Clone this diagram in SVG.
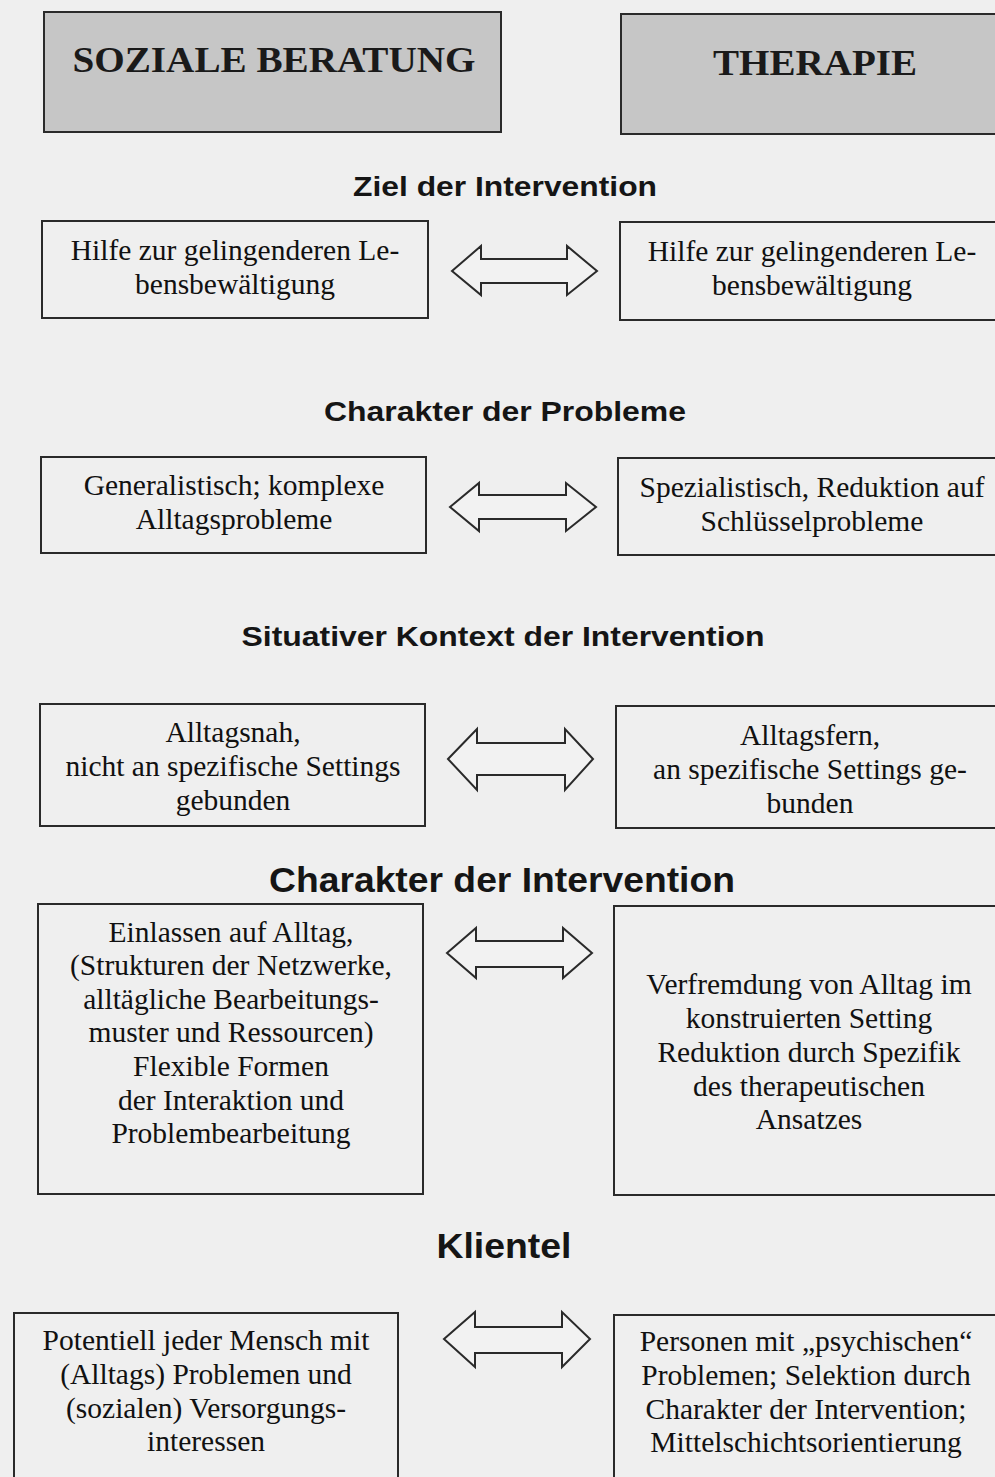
<svg xmlns="http://www.w3.org/2000/svg" width="995" height="1477" viewBox="0 0 995 1477">
<style>
.box{fill:none;stroke:#2a2a2a;stroke-width:2}
.hdr{fill:#c6c6c6;stroke:#2a2a2a;stroke-width:2}
.arr{fill:#f2f2f2;stroke:#2a2a2a;stroke-width:2;stroke-linejoin:miter}
.t{font-family:"Liberation Serif","Times New Roman",serif;font-size:29.5px;fill:#111111;text-anchor:middle}
.h{font-family:"Liberation Sans",Arial,sans-serif;font-weight:bold;fill:#151515;text-anchor:middle}
.ht{font-family:"Liberation Serif","Times New Roman",serif;font-weight:bold;font-size:35px;fill:#1a1a1a;text-anchor:middle}
</style>
<rect x="0" y="0" width="995" height="1477" fill="#efefef"/>

<g id="header-left">
<rect class="hdr" x="44" y="12" width="457" height="120"/>
<text class="ht" x="274" y="72" textLength="403" lengthAdjust="spacingAndGlyphs">SOZIALE BERATUNG</text>
</g>
<g id="header-right">
<rect class="hdr" x="621" y="14" width="380" height="120"/>
<text class="ht" x="815" y="75" textLength="204" lengthAdjust="spacingAndGlyphs">THERAPIE</text>
</g>

<g id="heading-ziel"><text class="h" x="505" y="196" font-size="28" textLength="304" lengthAdjust="spacingAndGlyphs">Ziel der Intervention</text></g>
<g id="heading-probleme"><text class="h" x="505" y="421" font-size="28" textLength="362" lengthAdjust="spacingAndGlyphs">Charakter der Probleme</text></g>
<g id="heading-kontext"><text class="h" x="503" y="646" font-size="28" textLength="523" lengthAdjust="spacingAndGlyphs">Situativer Kontext der Intervention</text></g>
<g id="heading-intervention"><text class="h" x="502" y="892" font-size="35" textLength="466" lengthAdjust="spacingAndGlyphs">Charakter der Intervention</text></g>
<g id="heading-klientel"><text class="h" x="504" y="1258" font-size="35" textLength="135" lengthAdjust="spacingAndGlyphs">Klientel</text></g>

<g id="ziel-left">
<rect class="box" x="42" y="221" width="386" height="97"/>
<text class="t" x="235" y="260">Hilfe zur gelingenderen Le-</text>
<text class="t" x="235" y="294">bensbewältigung</text>
</g>
<g id="ziel-right">
<rect class="box" x="620" y="222" width="380" height="98"/>
<text class="t" x="812" y="261">Hilfe zur gelingenderen Le-</text>
<text class="t" x="812" y="295">bensbewältigung</text>
</g>

<g id="probleme-left">
<rect class="box" x="41" y="457" width="385" height="96"/>
<text class="t" x="234" y="495">Generalistisch; komplexe</text>
<text class="t" x="234" y="529">Alltagsprobleme</text>
</g>
<g id="probleme-right">
<rect class="box" x="618" y="458" width="382" height="97"/>
<text class="t" x="812" y="497">Spezialistisch, Reduktion auf</text>
<text class="t" x="812" y="531">Schlüsselprobleme</text>
</g>

<g id="kontext-left">
<rect class="box" x="40" y="704" width="385" height="122"/>
<text class="t" x="233" y="742">Alltagsnah,</text>
<text class="t" x="233" y="776">nicht an spezifische Settings</text>
<text class="t" x="233" y="810">gebunden</text>
</g>
<g id="kontext-right">
<rect class="box" x="616" y="706" width="384" height="122"/>
<text class="t" x="810" y="745">Alltagsfern,</text>
<text class="t" x="810" y="779">an spezifische Settings ge-</text>
<text class="t" x="810" y="813">bunden</text>
</g>

<g id="intervention-left">
<rect class="box" x="38" y="904" width="385" height="290"/>
<text class="t" x="231" y="942">Einlassen auf Alltag,</text>
<text class="t" x="231" y="975">(Strukturen der Netzwerke,</text>
<text class="t" x="231" y="1009">alltägliche Bearbeitungs-</text>
<text class="t" x="231" y="1042">muster und Ressourcen)</text>
<text class="t" x="231" y="1076">Flexible Formen</text>
<text class="t" x="231" y="1110">der Interaktion und</text>
<text class="t" x="231" y="1143">Problembearbeitung</text>
</g>
<g id="intervention-right">
<rect class="box" x="614" y="906" width="386" height="289"/>
<text class="t" x="809" y="994">Verfremdung von Alltag im</text>
<text class="t" x="809" y="1028">konstruierten Setting</text>
<text class="t" x="809" y="1062">Reduktion durch Spezifik</text>
<text class="t" x="809" y="1096">des therapeutischen</text>
<text class="t" x="809" y="1129">Ansatzes</text>
</g>

<g id="klientel-left">
<rect class="box" x="14" y="1313" width="384" height="180"/>
<text class="t" x="206" y="1350">Potentiell jeder Mensch mit</text>
<text class="t" x="206" y="1384">(Alltags) Problemen und</text>
<text class="t" x="206" y="1418">(sozialen) Versorgungs-</text>
<text class="t" x="206" y="1451">interessen</text>
</g>
<g id="klientel-right">
<rect class="box" x="614" y="1315" width="386" height="180"/>
<text class="t" x="806" y="1351">Personen mit „psychischen“</text>
<text class="t" x="806" y="1385">Problemen; Selektion durch</text>
<text class="t" x="806" y="1419">Charakter der Intervention;</text>
<text class="t" x="806" y="1452">Mittelschichtsorientierung</text>
</g>

<g id="connectors">
<polygon class="arr" points="452,271 481,246 481,259 567,259 567,246 597,271 567,295 567,283 481,283 481,295"/>
<polygon class="arr" points="450,507 479,483 479,495 566,495 566,483 596,507 566,531 566,519 479,519 479,531"/>
<polygon class="arr" points="448,759 477,729 477,743 565,743 565,729 593,759 565,790 565,775 477,775 477,790"/>
<polygon class="arr" points="447,953 476,928 476,941 563,941 563,928 592,953 563,978 563,967 476,967 476,978"/>
<polygon class="arr" points="444,1339 475,1312 475,1327 562,1327 562,1312 590,1339 562,1367 562,1353 475,1353 475,1367"/>
</g>
</svg>
